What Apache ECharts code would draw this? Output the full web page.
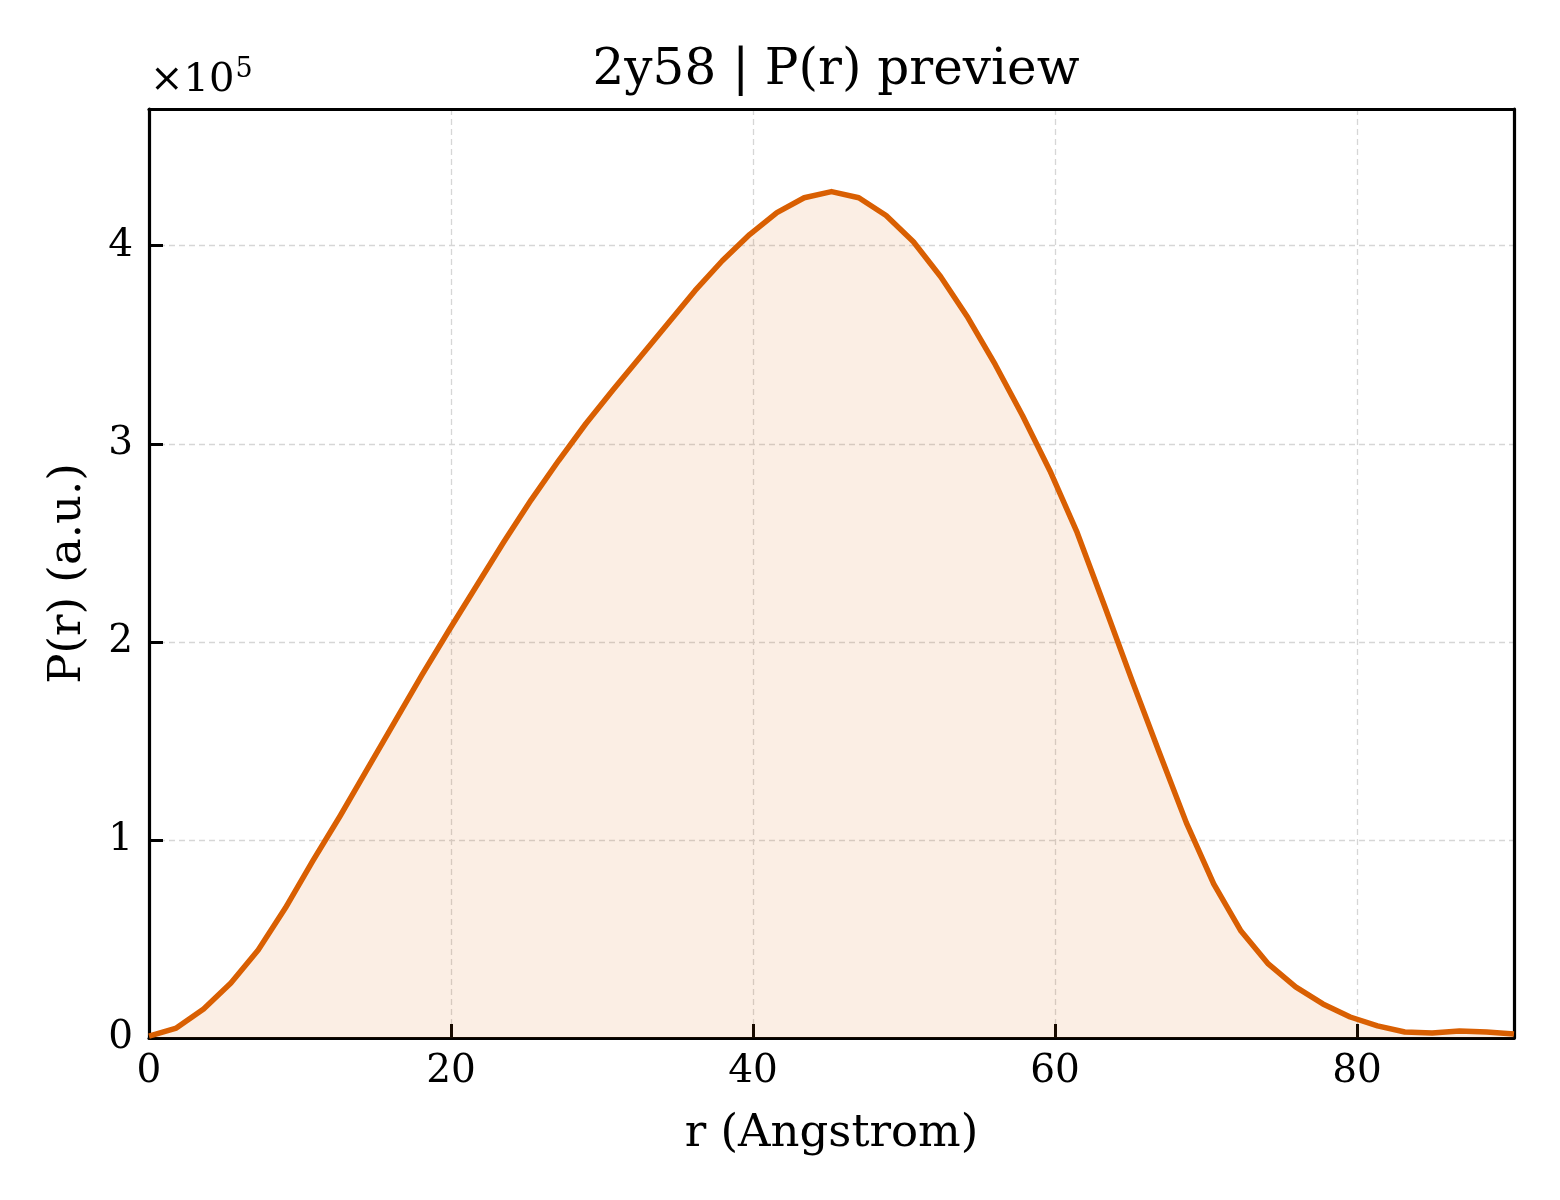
<!DOCTYPE html>
<html>
<head>
<meta charset="utf-8">
<title>2y58 | P(r) preview</title>
<script src="https://cdn.jsdelivr.net/npm/echarts@6/dist/echarts.min.js"></script>
<style>
  html, body { margin: 0; padding: 0; background: #fff; }
  #chart { width: 1560px; height: 1200px; }
</style>
</head>
<body>
<div id="chart"></div>
<script>
// r in Angstrom, 51 samples from 0 to 90.4
var rStep = 1.808;
var rValues = [];
for (var k = 0; k <= 50; k++) rValues.push(+(k * rStep).toFixed(3));

// P(r) in units of 1e5
var prValues = [
    0.01, 0.05, 0.146, 0.278, 0.444, 0.657, 0.894, 1.121, 1.359, 1.596,
    1.833, 2.061, 2.283, 2.505, 2.717, 2.914, 3.101, 3.273, 3.439, 3.606,
    3.773, 3.924, 4.056, 4.167, 4.242, 4.273, 4.242, 4.152, 4.020, 3.843,
    3.636, 3.399, 3.141, 2.864, 2.551, 2.182, 1.808, 1.444, 1.086, 0.778,
    0.540, 0.374, 0.258, 0.172, 0.106, 0.061, 0.030, 0.025, 0.035, 0.030,
    0.020
];

var xTicks = [0, 20, 40, 60, 80];
var yTicks = [0, 1, 2, 3, 4];

function tickFmt(list) {
    return function (v) {
        for (var i = 0; i < list.length; i++) {
            if (Math.abs(v - list[i]) < 1e-6) return String(list[i]);
        }
        return '';
    };
}

var serif = '"DejaVu Serif", "Liberation Serif", serif';
var chart = echarts.init(document.getElementById('chart'));

var seriesData = rValues.map(function (r, i) { return [r, prValues[i]]; });

var gridLine = { show: true, lineStyle: { color: '#d6d6d6', width: 1.3, type: [6, 4] } };
var frameOnly = {
    axisLine: { show: true, onZero: false, lineStyle: { color: '#000', width: 3.2 } },
    axisTick: { show: false },
    axisLabel: { show: false },
    splitLine: { show: false }
};

option = {
    backgroundColor: '#ffffff',
    animation: false,
    title: {
        text: '2y58 | P(r) preview',
        left: 831,
        top: 41,
        textAlign: 'center',
        textStyle: {
            fontFamily: serif,
            fontSize: 50,
            fontWeight: 'normal',
            color: '#000'
        }
    },
    grid: {
        left: 149,
        right: 46,
        top: 109,
        bottom: 162
    },
    graphic: [
        {
            type: 'text',
            left: 150,
            top: 56,
            style: {
                text: '{b|×10}{s|5}',
                rich: {
                    b: { fontFamily: serif, fontSize: 40, fill: '#000', verticalAlign: 'bottom' },
                    s: { fontFamily: serif, fontSize: 27, fill: '#000', verticalAlign: 'top', padding: [0, 0, 18, 1] }
                }
            }
        }
    ],
    xAxis: [
        {
            type: 'value',
            min: 0,
            max: 90.4,
            interval: 20,
            name: 'r (Angstrom)',
            nameLocation: 'middle',
            nameGap: 74,
            nameTextStyle: { fontFamily: serif, fontSize: 45, color: '#000' },
            axisLine: { show: true, lineStyle: { color: '#000', width: 3.2 } },
            axisTick: { show: true, inside: true, length: 14, lineStyle: { color: '#000', width: 3 } },
            axisLabel: {
                fontFamily: serif, fontSize: 39, color: '#000', margin: 14,
                showMaxLabel: false,
                formatter: tickFmt(xTicks)
            },
            splitLine: gridLine
        },
        Object.assign({ type: 'value', position: 'top', min: 0, max: 90.4 }, frameOnly)
    ],
    yAxis: [
        {
            type: 'value',
            min: 0,
            max: 4.69,
            interval: 1,
            name: 'P(r) (a.u.)',
            nameLocation: 'middle',
            nameGap: 58,
            nameRotate: 90,
            nameTextStyle: { fontFamily: serif, fontSize: 45, color: '#000' },
            axisLine: { show: true, lineStyle: { color: '#000', width: 3.2 } },
            axisTick: { show: true, inside: true, length: 14, lineStyle: { color: '#000', width: 3 } },
            axisLabel: {
                fontFamily: serif, fontSize: 39, color: '#000', margin: 16,
                showMaxLabel: false,
                formatter: tickFmt(yTicks)
            },
            splitLine: gridLine
        },
        Object.assign({ type: 'value', position: 'right', min: 0, max: 4.69 }, frameOnly)
    ],
    series: [
        {
            name: 'P(r)',
            type: 'line',
            data: seriesData,
            showSymbol: false,
            smooth: false,
            lineStyle: { color: '#d95f02', width: 5.5, join: 'round' },
            areaStyle: { color: 'rgba(217,95,2,0.15)', origin: 'start' },
            z: 3
        }
    ]
};

chart.setOption(option);
</script>
</body>
</html>
